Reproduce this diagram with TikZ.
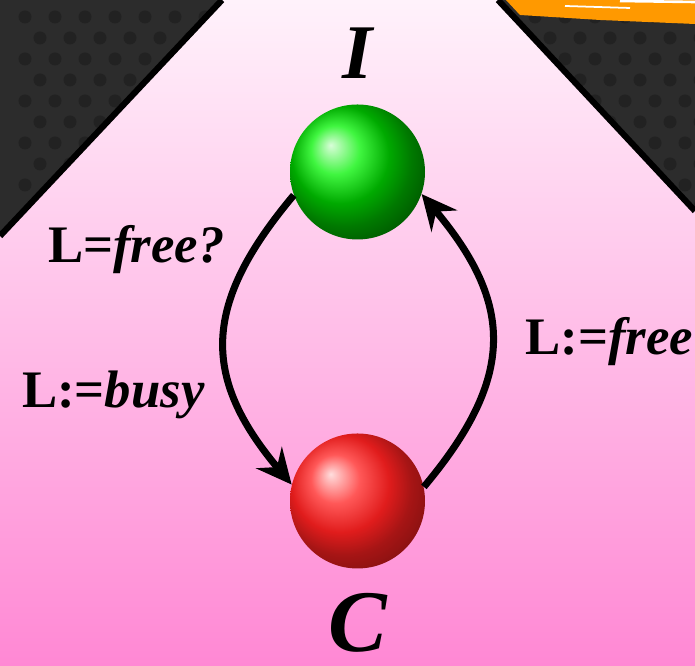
\documentclass[tikz,border=0pt]{standalone}
\usepackage{fontspec}
\setmainfont{Liberation Serif}
\usepackage{tikz}
\usetikzlibrary{arrows.meta}
\usepackage{xcolor}
\definecolor{bgTop}{HTML}{FFF2FB}
\definecolor{bgBottom}{HTML}{FF88D4}
\definecolor{panelDark}{HTML}{2C2C2C}
\definecolor{dotDark}{HTML}{222222}
\definecolor{strokeOrange}{HTML}{FF9900}
\definecolor{ballRed}{HTML}{FF2020}
\pgfdeclareradialshading{redball}{\pgfpoint{-10bp}{10bp}}{%
  color(0bp)=(ballRed!15!white);
  color(9bp)=(ballRed!75!white);
  color(18bp)=(ballRed!88!black);
  color(25bp)=(ballRed!65!black);
  color(50bp)=(ballRed!20!black)}

\begin{document}
\begin{tikzpicture}[
    ball/.style={circle, inner sep=0pt, minimum size=2.7cm},
    lbl/.style={inner sep=0pt, font=\fontsize{30}{36}\selectfont\bfseries},
    trans/.style={line width=4pt, -{Stealth[length=20pt, width=19pt, inset=7pt]}, looseness=1.25}
  ]
  \useasboundingbox (0,0) rectangle (13.9,13.32);
  \shade[top color=bgTop, bottom color=bgBottom] (0,0) rectangle (13.9,13.32);
  % dark corners
  \fill[panelDark] (0,13.32) -- (4.44,13.32) -- (0,8.6) -- cycle;
  \fill[panelDark] (9.96,13.32) -- (13.9,13.32) -- (13.9,9.1) -- cycle;
  \begin{scope}
    \clip (0,13.32) -- (4.44,13.32) -- (0,8.6) -- cycle (9.96,13.32) -- (13.9,13.32) -- (13.9,9.1) -- cycle;
    \foreach \r in {0,...,11}
      \foreach \c in {0,...,23}
        \fill[dotDark] ({\c*0.6+0.5+mod(\r,2)*0.3}, {12.98-\r*0.42}) circle (0.13);
  \end{scope}
  \draw[line width=3.5pt] (4.44,13.32) -- (0,8.6);
  \draw[line width=3.5pt] (9.96,13.32) -- (13.9,9.1);
  % orange brush stroke
  \fill[strokeOrange] (10.12,13.32) -- (13.9,13.32) -- (13.9,12.84) -- (12.0,12.92) -- (10.4,13.02) -- cycle;
  \draw[white, line width=1pt] (11.3,13.2) -- (12.6,13.16);
  \draw[white, line width=1.5pt] (12.4,13.3) -- (13.9,13.28);

  \node[ball, ball color=green!95!black] (I) at (7.15,9.88) {};
  \node[ball, shading=redball] (C) at (7.15,3.3) {};
  \node[anchor=base, inner sep=0pt, font=\fontsize{44}{50}\selectfont\bfseries\itshape] (Ilbl) at (7.15,11.74) {I};
  \node[anchor=base, inner sep=0pt, font=\fontsize{50}{56}\selectfont\bfseries\itshape] (Clbl) at (7.15,0.28) {C};

  \draw[trans] (I.200) to[out=230, in=130] (C.166);
  \draw[trans] (C.12) to[out=50, in=310] (I.341);

  \node[lbl, anchor=base east] (guard) at (4.5,8.06) {L=\textit{free?}};
  \node[lbl, anchor=base east] (take) at (4.1,5.16) {L:=\textit{busy}};
  \node[lbl, anchor=base west] (release) at (10.5,6.22) {L:=\textit{free}};
\end{tikzpicture}
\end{document}
